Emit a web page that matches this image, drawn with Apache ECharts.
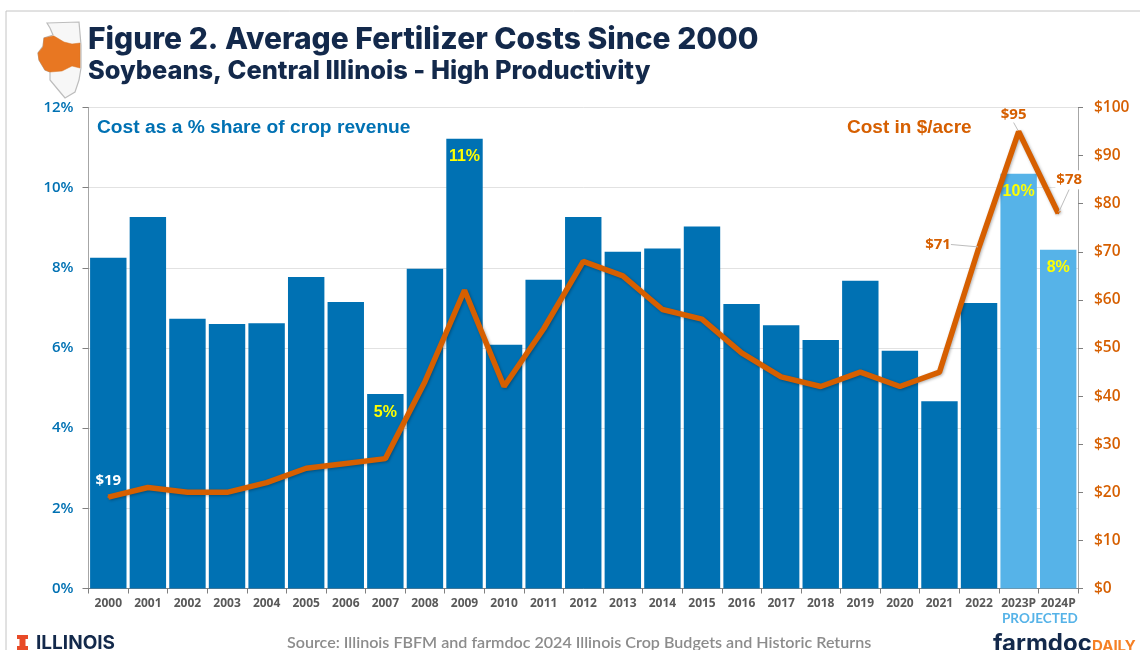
<!DOCTYPE html>
<html><head><meta charset="utf-8">
<style>html,body{margin:0;padding:0;background:#fff;overflow:hidden}#c{width:1140px;height:650px}</style>
<script src="https://cdn.jsdelivr.net/npm/echarts@6/dist/echarts.min.js"></script>
</head><body><div id="c"></div>
<script>
const years = ['2000','2001','2002','2003','2004','2005','2006','2007','2008','2009','2010','2011','2012','2013','2014','2015','2016','2017','2018','2019','2020','2021','2022','2023P','2024P'];
const shareOfRevenue = [8.25,9.27,6.73,6.6,6.62,7.77,7.15,4.85,7.98,11.22,6.08,7.7,9.27,8.4,8.48,9.03,7.1,6.57,6.2,7.68,5.93,4.67,7.12,10.35,8.45];
const costPerAcre = [19,21,20,20,22,25,26,27,43,62,42,54,68,65,58,56,49,44,42,45,42,45,71,95,78];
const barLabelYears = ['2007','2009','2023P','2024P'];
const projectedYears = ['2023P','2024P'];
const titleText = 'Figure 2. Average Fertilizer Costs Since 2000';
const subtitleText = 'Soybeans, Central Illinois - High Productivity';
const sourceText = 'Source: Illinois FBFM and farmdoc 2024 Illinois Crop Budgets and Historic Returns';
const BLUE='#0071B3', LIGHT='#56B3E8', ORANGE='#D65F00', NAVY='#13294B', GRID='#E2E2E2', AXIS='#A6A6A6';

const barData = shareOfRevenue.map((v,i)=>{
  const y=years[i], p=projectedYears.includes(y), o={value:v,itemStyle:{color:p?LIGHT:BLUE}};
  if(barLabelYears.includes(y)) o.label={show:true,position:'insideTop',distance:10,formatter:Math.round(v)+'%',color:'#FFFF00',fontFamily:'Liberation Sans',fontWeight:'bold',fontSize:16};
  return o;
});
const lbl=(cfg)=>Object.assign({show:true,position:'top',color:ORANGE,fontFamily:'Open Sans',fontWeight:'bold',fontSize:15,formatter:'${c}'},cfg);
const leader={show:true,lineStyle:{color:'#BDBDBD',width:1}};
const lineData = costPerAcre.map((v,i)=>{
  const o={value:v}, y=years[i];
  if(y==='2000') o.label=lbl({distance:8,color:'#fff'});
  if(y==='2022'){o.label=lbl({});o.labelLine=leader;}
  if(y==='2023P'){o.label=lbl({});o.labelLine=leader;}
  if(y==='2024P'){o.label=lbl({backgroundColor:'#fff',padding:[2,1]});o.labelLine=leader;}
  return o;
});
const labelMoves={'2022':[-41,11],'2023P':[-5,-3],'2024P':[11,-18]};
const illinois=[[47,23],[79,22],[81,45],[81,68],[79,80],[75,92],[65,98],[60,92],[50,80],[50,72],[45,70],[39,60],[38,53],[43,46],[44,38],[53,35],[50,28]];
const central=[[44,38],[53,36],[54,36],[64,42],[72,44],[80,43],[80,68],[72,66],[62,71],[50,72],[45,70],[39,60],[38,53],[43,47]];
const logoI=[[17,635],[28,635],[28,639],[25.5,639],[25.5,646],[28,646],[28,650],[17,650],[17,646],[19.5,646],[19.5,639],[17,639]];

const chart=echarts.init(document.getElementById('c'),null,{renderer:'canvas'});
chart.setOption({
  animation:false,backgroundColor:'#fff',
  grid:{left:88.5,right:62,top:107.5,bottom:61.5,containLabel:false},
  xAxis:{type:'category',data:years,axisLine:{lineStyle:{color:'#7F7F7F',width:1}},axisTick:{show:true,length:5,alignWithLabel:false,lineStyle:{color:'#7F7F7F'}},
    axisLabel:{interval:0,color:'#595959',fontFamily:'Open Sans',fontWeight:'bold',fontSize:12,margin:9}},
  yAxis:[
    {type:'value',min:0,max:12,interval:2,axisLine:{show:true,lineStyle:{color:AXIS,width:1}},axisTick:{show:true,length:6,lineStyle:{color:'#7F7F7F'}},splitLine:{lineStyle:{color:GRID}},
     axisLabel:{formatter:'{value}%',color:BLUE,fontFamily:'Open Sans',fontWeight:600,fontSize:15,margin:15}},
    {type:'value',min:0,max:100,interval:10,position:'right',axisLine:{show:true,lineStyle:{color:AXIS,width:1}},axisTick:{show:true,length:5,lineStyle:{color:'#7F7F7F'}},splitLine:{show:false},
     axisLabel:{formatter:'${value}',color:ORANGE,fontFamily:'Open Sans',fontWeight:600,fontSize:15.5,margin:16}}
  ],
  series:[
    {name:'Cost as a % share of crop revenue',type:'bar',yAxisIndex:0,data:barData,barCategoryGap:'8%',z:2},
    {name:'Cost in $/acre',type:'line',yAxisIndex:1,data:lineData,showSymbol:true,showAllSymbol:true,symbol:'circle',symbolSize:2,
     lineStyle:{color:ORANGE,width:5.5,shadowColor:'rgba(0,0,0,0.3)',shadowBlur:3,shadowOffsetX:1,shadowOffsetY:1},itemStyle:{color:ORANGE},z:5,
     labelLayout:(p)=>{const m=labelMoves[years[p.dataIndex]];return m?{dx:m[0],dy:m[1]}:{};}}
  ],
  graphic:[
    {type:'rect',z:-1,shape:{x:6,y:11,width:1140,height:660},style:{fill:'none',stroke:'#C4C4C4',lineWidth:1}},
    {type:'polygon',shape:{points:illinois},style:{fill:'#F7F7F7',stroke:'#BDBDBD',lineWidth:1.2}},
    {type:'polygon',shape:{points:central},style:{fill:'#E87722',stroke:'#D9701F',lineWidth:0.5}},
    {type:'text',left:88,top:25,style:{text:titleText,fill:NAVY,font:'800 30px Inter'}},
    {type:'text',left:88,top:59,style:{text:subtitleText,fill:NAVY,font:'800 25.4px Inter'}},
    {type:'text',left:97,top:118,style:{text:'Cost as a % share of crop revenue',fill:BLUE,font:'bold 19.2px "Liberation Sans"'}},
    {type:'text',left:847,top:118,style:{text:'Cost in $/acre',fill:ORANGE,font:'bold 19px "Liberation Sans"'}},
    {type:'text',left:1002,top:612,style:{text:'PROJECTED',fill:LIGHT,font:'bold 13.5px Lato'}},
    {type:'polygon',shape:{points:logoI},style:{fill:'#E84A27'}},
    {type:'text',left:36,top:634,style:{text:'ILLINOIS',fill:NAVY,font:'bold 19px Inter'}},
    {type:'text',left:287,top:635,style:{text:sourceText,fill:'#8C8C8C',font:'600 16.1px Lato'}},
    {type:'text',left:993,top:632,style:{text:'farmdoc',fill:NAVY,font:'bold 24px Inter'}},
    {type:'text',left:1092,top:639,style:{text:'DAILY',fill:'#F58025',font:'bold 15px Inter'}}
  ]
});
</script></body></html>
